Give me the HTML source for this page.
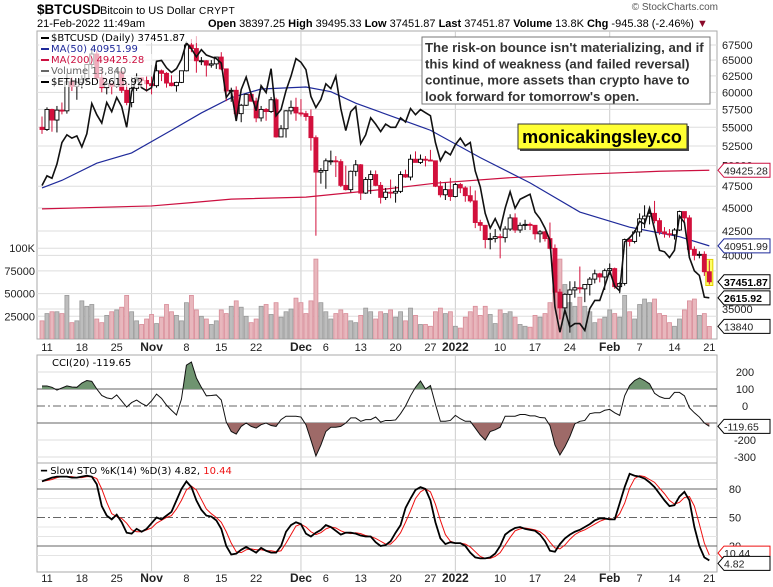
<!DOCTYPE html>
<html><head><meta charset="utf-8"><style>
body{margin:0;background:#fff;}
svg{display:block;font-family:"Liberation Sans",sans-serif;}
</style></head><body>
<svg id="c" width="773" height="587" viewBox="0 0 773 587">
<text x="37" y="14" font-size="13.5" font-weight="bold">$BTCUSD</text>
<text x="100" y="14" font-size="11">Bitcoin to US Dollar</text>
<text x="199" y="14" font-size="10" letter-spacing="0.5">CRYPT</text>
<text x="718" y="10" font-size="10" fill="#555" text-anchor="end">© StockCharts.com</text>
<text x="37" y="27" font-size="11">21-Feb-2022 11:49am</text>
<text x="208" y="27" font-size="11"><tspan font-weight="bold">Open</tspan> 38397.25 <tspan font-weight="bold">High</tspan> 39495.33 <tspan font-weight="bold">Low</tspan> 37451.87 <tspan font-weight="bold">Last</tspan> 37451.87 <tspan font-weight="bold">Volume</tspan> 13.8K <tspan font-weight="bold">Chg</tspan> -945.38 (-2.46%) <tspan fill="#8b0a2a">▼</tspan></text>
<g id="g"></g>
</svg>
<script>
// ---- data ----
const dayLabels=[[1,"11"],[8,"18"],[15,"25"],[22,"Nov"],[29,"8"],[36,"15"],[43,"22"],[52,"Dec"],[57,"6"],[64,"13"],[71,"20"],[78,"27"],[83,"2022"],[92,"10"],[99,"17"],[106,"24"],[114,"Feb"],[120,"7"],[127,"14"],[134,"21"]];
const boldLabels=["Nov","Dec","2022","Feb"];
const firstOpen=55000;
const closes=[54700,57500,56000,57400,57300,61600,60900,61500,62000,64300,66000,62200,60700,61300,60900,63100,60300,58500,60600,62200,61800,61300,
61000,63300,62900,61400,61000,61500,63300,67500,66900,64900,64900,64200,64400,65500,63600,60200,60300,56900,58100,59700,58700,56300,57500,57200,58900,53700,54800,57300,57800,57000,
56900,56500,53600,49200,49400,50600,50600,50500,47600,47100,49300,50100,46700,48300,48900,47600,46200,46800,46700,46900,48900,48600,50800,50400,50800,50700,50600,47500,46500,47100,46300,
47700,47300,46400,45800,43400,43100,41600,41700,41900,41800,42700,43900,42600,43100,43200,43100,42200,42400,41700,40700,36500,35100,36300,36700,36900,36800,37200,37700,38200,37900,38500,
38700,37000,37300,41600,41400,42400,43800,44100,44400,43600,42400,42200,42100,42600,44600,43900,40600,40000,40100,38400,37452];
const highs=[56500,57800,57600,58000,58500,62900,62300,61700,62600,64400,66900,66600,63700,61700,61400,63700,63300,61400,62300,62900,62300,62400,
62400,64300,63500,63100,62600,61600,63300,67800,68500,69000,65500,65000,65000,65400,66300,63500,60700,60900,58300,59800,60000,59200,58000,57700,59300,59200,55300,57400,58800,59200,
59000,57300,57500,53900,49700,50900,51900,51200,50800,50000,49400,50700,50200,48600,49400,49400,48000,47300,48300,47500,49300,49500,51400,51800,51400,51200,52000,50600,48100,47900,48500,
47900,47900,47500,47500,47000,43700,43100,42300,42700,42200,43000,44300,44400,43400,43700,43400,43100,42600,42500,43400,41100,36800,36400,37500,37500,38900,37200,37900,38600,38300,38700,
39200,38800,37400,41700,41900,42600,44400,45300,44700,45800,43900,42900,42700,42800,44700,44500,44200,40900,40400,40400,39495];
const lows=[54100,54500,54400,54300,56800,56900,60200,58900,60600,61400,63600,61700,60000,59700,59700,60700,59900,58100,57800,60200,60700,60100,
59700,60700,61700,60700,60900,60100,61400,63200,66300,63000,64200,62400,63800,63600,63400,58700,58600,56400,55700,58000,58600,55700,55800,55900,57000,53600,53700,53600,56800,55900,
56500,55900,51900,42000,47800,47200,50100,48600,47400,47000,46800,48700,45900,46600,46600,47500,45500,45900,46100,45600,46700,48500,48200,50400,50200,49900,50600,47400,46200,45900,45800,
46200,46700,45700,45600,42800,42500,40700,40600,41300,39700,41300,42500,42300,42300,42600,42600,41600,41300,41400,40600,35500,34100,34600,33000,36000,36400,35600,36200,37300,37400,36700,
38100,36800,36400,37100,40900,41200,41900,42800,43200,43300,42100,41800,41800,41600,42500,43300,40100,39500,39700,38000,37200];
const volumesK=[20,28,30,30,28,48,18,20,42,36,38,22,18,26,30,32,35,48,30,20,16,22,
27,17,24,38,30,26,20,40,48,32,25,22,16,20,32,28,36,42,35,25,18,22,36,38,27,40,24,30,33,45,
40,28,42,88,40,30,22,28,32,28,20,18,26,34,30,22,30,28,32,24,30,20,34,26,16,16,14,30,34,28,30,
14,12,24,30,36,26,36,27,17,32,28,30,24,16,14,13,26,24,28,40,70,88,60,40,36,46,36,30,18,22,24,
32,28,24,48,30,22,38,44,40,44,28,26,18,14,22,32,42,44,26,28,13.84];
const ethCloses=[3420,3500,3480,3600,3790,3860,3830,3850,3750,3870,4160,4050,3970,4170,4080,4220,4130,3930,4280,4420,4320,4290,
4320,4600,4610,4530,4480,4520,4620,4810,4740,4650,4730,4670,4650,4630,4580,4220,4290,3990,4300,4430,4250,4090,4340,4270,4520,4040,4100,4290,4440,4630,
4590,4510,4230,4120,4200,4360,4310,4440,4110,3900,4080,4130,3780,3860,4020,3960,3890,3960,3930,3930,4020,3980,4110,4050,4100,4070,4040,3790,3630,3710,3680,
3770,3830,3760,3790,3540,3410,3200,3090,3160,3080,3240,3370,3240,3310,3330,3350,3210,3160,3090,3000,2560,2410,2540,2440,2460,2460,2420,2550,2600,2600,2690,
2790,2690,2660,2990,3020,3060,3140,3120,3240,3080,2930,2920,2880,2930,3180,3130,2880,2790,2760,2620,2615.92];
const ma50Days=[0,4,11,18,26,32,38,44,53,58,63,68,78,88,98,108,118,128,134];
const ma50Vals=[47300,48200,50300,51600,54600,57000,59200,60500,60800,60100,58400,57100,54600,51000,47900,44550,42900,41900,40952];
const ma200Days=[0,22,30,38,53,68,79,94,108,124,134];
const ma200Vals=[44900,45230,45600,46000,46230,47100,47860,48520,48930,49300,49425];
const cci=[118,118,110,94,106,118,112,110,135,150,145,100,62,48,42,65,30,-6,20,35,15,0,30,70,45,5,-25,-53,40,240,259,165,110,60,62,65,35,-94,-150,-165,-120,-100,-120,-130,-110,-100,-115,-120,-80,-60,-60,-60,-65,-110,-200,-294,-230,-150,-125,-125,-120,-100,-70,-70,-90,-80,-80,-65,-95,-85,-85,-82,-45,0,60,110,147,100,120,10,-90,-90,-85,-55,-75,-90,-90,-130,-170,-200,-150,-140,-125,-60,-60,-60,-50,-50,-58,-58,-68,-70,-115,-229,-288,-240,-180,-105,-90,-85,-45,-40,-40,-25,-20,-40,-55,60,120,150,165,150,130,75,55,45,45,80,80,60,-10,-40,-65,-100,-119.65];
const stoK=[88,90,92,93,93,93,92,92,93,94,93,85,62,52,48,53,45,34,33,38,35,38,44,50,48,52,56,68,80,88,82,68,58,52,51,47,38,20,11,12,16,19,16,13,18,15,13,13,20,35,42,45,43,33,30,34,37,42,40,36,32,34,34,33,31,30,30,24,20,21,25,34,42,60,70,79,82,80,68,45,28,22,24,23,23,20,13,8,7,7,8,12,20,32,36,39,40,38,37,36,32,25,15,14,22,28,32,35,37,40,43,47,49,49,48,48,65,82,96,94,93,91,87,82,75,68,62,63,72,77,68,40,20,8,4.82];
const stoD=[88,89,90,92,93,93,93,92,92,93,93,91,80,66,54,51,49,44,37,35,35,37,39,44,47,50,52,59,68,79,83,79,69,59,54,50,45,35,23,14,13,16,17,16,16,15,15,14,15,23,32,41,43,40,35,32,34,38,40,39,36,34,33,34,33,31,30,28,25,22,22,27,34,45,57,70,77,80,77,64,47,32,25,23,23,22,19,14,9,7,7,9,13,21,29,36,38,39,38,37,35,31,24,18,17,21,27,32,35,37,40,43,46,48,49,48,54,65,81,91,94,93,90,87,81,75,68,64,66,71,72,62,43,23,10.44];
const priceTicks=[67500,65000,62500,60000,57500,55000,52500,50000,47500,45000,42500,40000,35000];
const volTicks=[[100000,"100K"],[75000,"75000"],[50000,"50000"],[25000,"25000"]];
const cciTicks=[200,100,0,-200,-300];
const stoTicks=[80,50,20];

// ---- geometry ----
const L=37,R=717;
const X=d=>42+4.98*d;
const Y=p=>309-402*Math.log(p/35000);
const YE=e=>298-419*Math.log(e/2615);
const YV=v=>339-v*0.000908;
const YC=v=>406-0.17*v;
const YS=v=>565-0.95*v;
const NS="http://www.w3.org/2000/svg";
const g=document.getElementById('g');
function mk(t,a,p){const e=document.createElementNS(NS,t);for(const k in a)e.setAttribute(k,a[k]);(p||g).appendChild(e);return e;}
function txt(x,y,s,a){const e=mk('text',Object.assign({x:x,y:y,'font-size':11},a||{}));e.textContent=s;return e;}

const defs=mk('defs',{});
const cp=mk('clipPath',{id:'pc'},defs);mk('rect',{x:L,y:31,width:R-L,height:308},cp);
const cUp=mk('clipPath',{id:'cup'},defs);mk('rect',{x:L,y:355,width:R-L,height:YC(100)-355},cUp);
const cDn=mk('clipPath',{id:'cdn'},defs);mk('rect',{x:L,y:YC(-100),width:R-L,height:463-YC(-100)},cDn);

const panels=[[31,339],[355,463],[463,572]];
panels.forEach(function(pp,i){
  const r=mk('rect',{x:L,y:pp[0],width:R-L,height:pp[1]-pp[0],fill:'#fff',stroke:'#aaa'});
  
  
});
[22,52,83,114].forEach(function(d){
  panels.forEach(function(pp){
    const l=mk('line',{x1:X(d),x2:X(d),y1:pp[0],y2:pp[1],stroke:'#ccc'});
    
    
  });
});
priceTicks.forEach(function(p){
  const l=mk('line',{x1:L,x2:R,y1:Y(p),y2:Y(p),stroke:'#ddd'});
  
  
  const t=txt(722,Y(p)+4,String(p),{fill:'#222'});
  
  
});
volTicks.forEach(function(v){
  const l=mk('line',{x1:L,x2:R,y1:YV(v[0]),y2:YV(v[0]),stroke:'#ddd'});
  
  
  const t=txt(35,YV(v[0])+4,v[1],{fill:'#222','text-anchor':'end'});
  
  
});

const pg=mk('g',{'clip-path':'url(#pc)'});
volumesK.forEach(function(v,i){
  const prev=i?closes[i-1]:firstOpen;
  const down=closes[i]<prev;
  const b=mk('rect',{x:X(i)-2,y:YV(v*1000),width:4,height:339-YV(v*1000),fill:down?'#e8b7bd':'#bdbdbd',stroke:down?'#d88c98':'#999','stroke-width':0.8},pg);
  
  
});
function poly(days,vals,fy,col,w,name){
  const pts=days.map(function(d,i){return X(d)+','+fy(vals[i]);}).join(' ');
  const e=mk('polyline',{points:pts,fill:'none',stroke:col,'stroke-width':w},pg);
  
  
}
poly(ma200Days,ma200Vals,Y,'#cc1040',1.2,'ma200-line');
poly(ma50Days,ma50Vals,Y,'#1f2a9a',1.2,'ma50-line');
const hl=mk('rect',{x:X(134)-3.5,y:Y(highs[134])-1,width:7,height:Y(lows[134])-Y(highs[134])+2,fill:'#ffff66',stroke:'#e0d000'},pg);


closes.forEach(function(c,i){
  const o=i?closes[i-1]:firstOpen;
  const down=c<o;
  const col=down?'#d2103c':'#000';
  const w=mk('line',{x1:X(i),x2:X(i),y1:Y(highs[i]),y2:Y(lows[i]),stroke:col,'stroke-width':1},pg);
  
  
  const top=Math.min(Y(o),Y(c)),h=Math.max(1,Math.abs(Y(o)-Y(c)));
  const b=mk('rect',{x:X(i)-2,y:top,width:4,height:h,fill:down?'#d2103c':'#fff',stroke:col,'stroke-width':0.9},pg);
  
  
});
poly(ethCloses.map(function(_,i){return i;}),ethCloses,YE,'#111',1.6,'eth-line');

const lg=[["$BTCUSD (Daily) 37451.87","#000"],["MA(50) 40951.99","#1f2a9a"],["MA(200) 49425.28","#cc1040"],["Volume 13,840","#666"],["$ETHUSD 2615.92","#000"]];
lg.forEach(function(l,i){
  const y=41+i*11;
  const bg=mk('rect',{x:39,y:y-9,width:l[0].length*6.2+14,height:11,fill:'#fff','fill-opacity':0.65});
  
  
  const m=mk('rect',{x:41,y:y-4,width:8,height:2,fill:l[1]});
  
  
  const t=txt(51,y,l[0],{fill:l[1],'font-family':'DejaVu Sans, sans-serif','font-size':10});
  
  
});

const ab=mk('rect',{x:422,y:37,width:288,height:67,fill:'#fff',stroke:'#777'});


["The risk-on bounce isn't materializing, and if","this kind of weakness (and failed reversal)","continue, more assets than crypto have to","look forward for tomorrow's open."].forEach(function(s,i){
  const t=txt(425,52+i*16.3,s,{'font-size':13.2,'font-weight':'bold',fill:'#333'});
  
  
});
const sh=mk('rect',{x:520,y:126,width:169,height:25,fill:'#444'});


const wb=mk('rect',{x:518,y:124,width:169,height:25,fill:'#ffff33',stroke:'#333'});


const wt=txt(602,143,"monicakingsley.co",{'font-size':18,'font-weight':'bold','text-anchor':'middle'});



function tag(y,s,col,bold,name){
  const p=mk('path',{d:'M718 '+y+' L724 '+(y-7)+' L770 '+(y-7)+' L770 '+(y+7)+' L724 '+(y+7)+' Z',fill:'#fff',stroke:col});
  
  
  const t=txt(724,y+4,s,{fill:bold?'#000':'#222','font-weight':bold?'bold':'normal','font-size':10.5});
  
  
}
tag(Y(ma200Vals[ma200Vals.length-1]),"49425.28",'#cc1040',false,'ma200');
tag(Y(ma50Vals[ma50Vals.length-1]),"40951.99",'#1f2a9a',false,'ma50');
tag(Y(closes[134]),"37451.87",'#000',true,'last-price');
tag(YE(ethCloses[134]),"2615.92",'#000',true,'eth-last');
tag(YV(volumesK[134]*1000),"13840",'#000',false,'last-volume');

function dates(y){
  dayLabels.forEach(function(dl){
    const b=boldLabels.indexOf(dl[1])>=0;
    const t=txt(X(dl[0]),y,dl[1],{'text-anchor':'middle','font-weight':b?'bold':'normal','font-size':b?12:11,fill:'#222'});
    
    
  });
}
dates(351);dates(582);

[200,-200,-300].forEach(function(v){
  const l=mk('line',{x1:L,x2:R,y1:YC(v),y2:YC(v),stroke:'#ddd'});
  
  
});
[100,-100].forEach(function(v){
  const l=mk('line',{x1:L,x2:R,y1:YC(v),y2:YC(v),stroke:'#666'});
  
  
});
const z=mk('line',{x1:L,x2:R,y1:YC(0),y2:YC(0),stroke:'#666','stroke-dasharray':'8,3,2,3'});


const cpts=cci.map(function(v,i){return X(i)+','+YC(v);}).join(' ');
const fu=mk('polygon',{points:X(0)+','+YC(100)+' '+cpts+' '+X(134)+','+YC(100),fill:'#6f9470','clip-path':'url(#cup)'});


const fd=mk('polygon',{points:X(0)+','+YC(-100)+' '+cpts+' '+X(134)+','+YC(-100),fill:'#9e6a68','clip-path':'url(#cdn)'});


const cl=mk('polyline',{points:cpts,fill:'none',stroke:'#111','stroke-width':1});


cciTicks.forEach(function(v){
  const t=txt(745,YC(v)+4,String(v),{'text-anchor':'middle',fill:'#222'});
  
  
});
tag(YC(cci[134]),"-119.65",'#000',false,'cci');
const ct=txt(52,366,"CCI(20) -119.65",{'font-family':'DejaVu Sans, sans-serif','font-size':10});



[10,30,40,60,70,90].forEach(function(v){
  const l=mk('line',{x1:L,x2:R,y1:YS(v),y2:YS(v),stroke:'#e4e4e4'});
  
  
});
[80,20].forEach(function(v){
  const l=mk('line',{x1:L,x2:R,y1:YS(v),y2:YS(v),stroke:'#666'});
  
  
});
const m50=mk('line',{x1:L,x2:R,y1:YS(50),y2:YS(50),stroke:'#666','stroke-dasharray':'8,3,2,3'});


const dl=mk('polyline',{points:stoD.map(function(v,i){return X(i)+','+YS(v);}).join(' '),fill:'none',stroke:'#ee1111','stroke-width':1});


const kl=mk('polyline',{points:stoK.map(function(v,i){return X(i)+','+YS(v);}).join(' '),fill:'none',stroke:'#000','stroke-width':1.8});


stoTicks.forEach(function(v){
  const t=txt(735,YS(v)+4,String(v),{'text-anchor':'middle',fill:'#222'});
  
  
});
tag(YS(stoD[134])-2,"10.44",'#ee1111',false,'sto-d');
tag(YS(stoK[134])+3,"4.82",'#000',false,'sto-k');
const st=txt(41,474,"",{'font-family':'DejaVu Sans, sans-serif','font-size':10});
st.innerHTML='<tspan font-weight="bold">━</tspan> Slow STO %K(14) %D(3) 4.82, <tspan fill="#ee1111">10.44</tspan>';


</script>
</body></html>
